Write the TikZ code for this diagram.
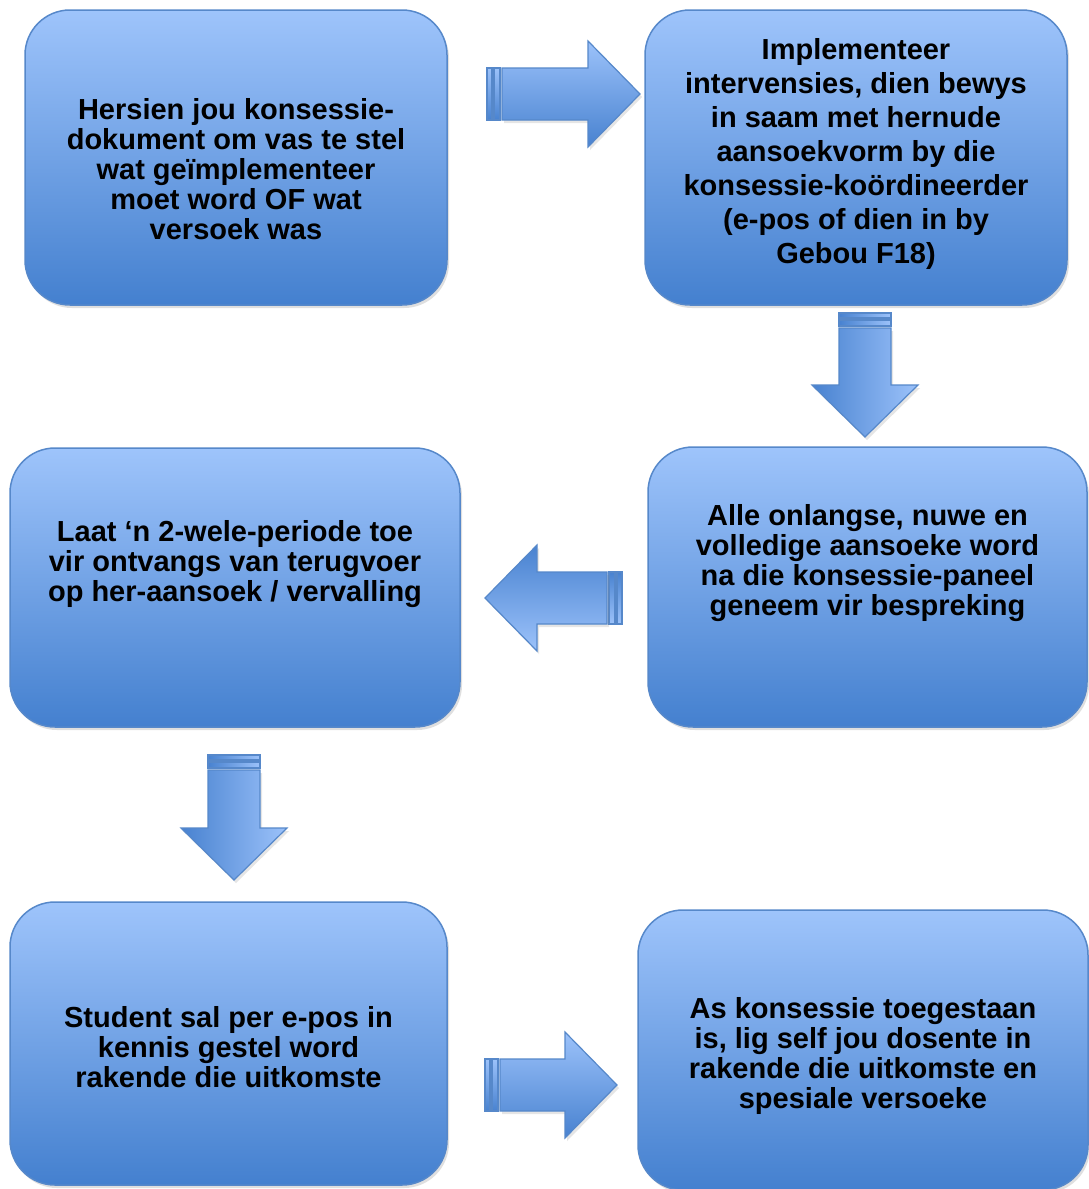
\documentclass[tikz,border=0pt]{standalone}
\usepackage{fontspec}
\setmainfont{Liberation Sans}
\usetikzlibrary{shadows}
\definecolor{boxtop}{RGB}{158,196,251}
\definecolor{boxbottom}{RGB}{68,128,207}
\definecolor{boxline}{RGB}{86,136,202}
\definecolor{arrowlight}{RGB}{156,194,250}
\definecolor{arrowdark}{RGB}{72,130,208}
\tikzset{flowbox/.style = {rectangle, rounded corners=45pt, draw=boxline, line width=1.5pt,
                           top color=boxtop, bottom color=boxbottom, inner sep=0pt,
                           drop shadow={opacity=0.25, shadow xshift=2pt, shadow yshift=-3pt}}}
\tikzset{flowtext/.style = {align=center, inner sep=0pt,
                            font=\bfseries\fontsize{29}{30}\selectfont}}
\tikzset{arrowpart/.style = {draw=boxline, line width=1.2pt, line join=miter}}
\newcommand{\flowarrow}[4]{%
  \begin{scope}[shift={(#1)}, rotate=#2]
    \shade[arrowpart, #4] (0, -26) rectangle (5, 26);
    \shade[arrowpart, #4] (7, -26) rectangle (13, 26);
    \shade[arrowpart, #4, drop shadow={opacity=0.2, shadow xshift=2pt, shadow yshift=-3pt}]
      (15, -26) -- (#3-52, -26) -- (#3-52, -53) -- (#3, 0)
      -- (#3-52, 53) -- (#3-52, 26) -- (15, 26) -- cycle;
  \end{scope}}

\begin{document}
\begin{tikzpicture}[x=1pt, y=-1pt]
  \path[use as bounding box, fill=white] (0, 0) rectangle (1089, 1189);

  \node [flowbox, minimum width=422pt, minimum height=295pt] (revise) at (236, 157.5) {};
  \node [flowbox, minimum width=422pt, minimum height=295pt] (implement) at (856, 157.5) {};
  \node [flowbox, minimum width=439pt, minimum height=280pt] (panel) at (867.5, 587) {};
  \node [flowbox, minimum width=450pt, minimum height=279pt] (wait) at (235, 587.5) {};
  \node [flowbox, minimum width=437pt, minimum height=283pt] (notify) at (228.5, 1043.5) {};
  \node [flowbox, minimum width=450pt, minimum height=280pt] (inform) at (863, 1050) {};

  \node [flowtext] (revise-txt) at ([yshift=-12pt]revise.center)
    {Hersien jou konsessie-\\dokument om vas te stel\\wat geïmplementeer\\moet word OF wat\\versoek was};
  \node [flowtext, font=\bfseries\fontsize{29}{34}\selectfont] (implement-txt) at ([yshift=4pt]implement.center)
    {Implementeer\\intervensies, dien bewys\\in saam met hernude\\aansoekvorm by die\\konsessie-koördineerder\\(e-pos of dien in by\\Gebou F18)};
  \node [flowtext] (panel-txt) at ([yshift=24pt]panel.center)
    {Alle onlangse, nuwe en\\volledige aansoeke word\\na die konsessie-paneel\\geneem vir bespreking};
  \node [flowtext] (wait-txt) at ([yshift=23pt]wait.center)
    {Laat ‘n 2-wele-periode toe\\vir ontvangs van terugvoer\\op her-aansoek / vervalling};
  \node [flowtext] (notify-txt) at ([yshift=-4pt]notify.center)
    {Student sal per e-pos in\\kennis gestel word\\rakende die uitkomste};
  \node [flowtext] (inform-txt) at ([yshift=-6pt]inform.center)
    {As konsessie toegestaan\\is, lig self jou dosente in\\rakende die uitkomste en\\spesiale versoeke};

  \flowarrow{487, 94}{0}{153}{top color=arrowlight, bottom color=arrowdark}
  \flowarrow{865, 313}{-90}{124}{left color=arrowdark, right color=arrowlight}
  \flowarrow{622, 598}{180}{137}{top color=arrowdark, bottom color=arrowlight}
  \flowarrow{234, 755}{-90}{125}{left color=arrowdark, right color=arrowlight}
  \flowarrow{485, 1085}{0}{132}{top color=arrowlight, bottom color=arrowdark}
\end{tikzpicture}
\end{document}
